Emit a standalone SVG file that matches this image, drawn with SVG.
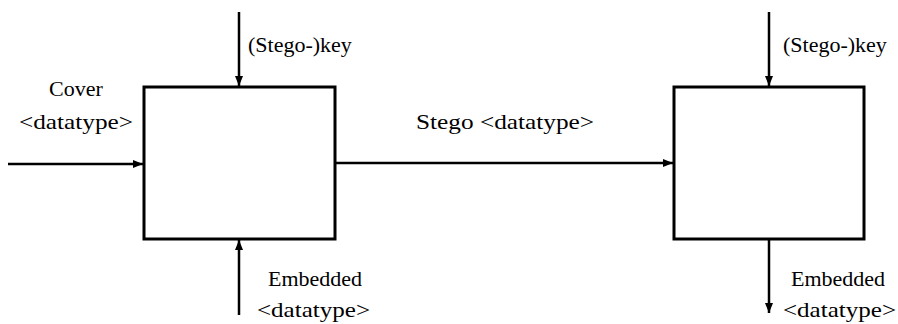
<svg xmlns="http://www.w3.org/2000/svg" width="898" height="324" viewBox="0 0 898 324">
<style>
.box{fill:#fff;stroke:#000;stroke-width:3}
.ln{stroke:#000;stroke-width:2.5;fill:none;marker-end:url(#ah)}
.t{font-family:'Liberation Serif','Times New Roman',serif;font-size:22px;fill:#000}
</style>
<defs>
<marker id="ah" viewBox="0 0 10 8" refX="10" refY="4" markerWidth="4" markerHeight="3.2" orient="auto" markerUnits="strokeWidth">
<path d="M0,0 L10,4 L0,8 Z" fill="#000"/>
</marker>
</defs>
<rect width="898" height="324" fill="#fff"/>
<g id="connectors">
<line class="ln" x1="239" y1="12" x2="239" y2="86"/>
<line class="ln" x1="8" y1="164" x2="143" y2="164"/>
<line class="ln" x1="239" y1="315" x2="239" y2="240"/>
<line class="ln" x1="336" y1="163" x2="673" y2="163"/>
<line class="ln" x1="769" y1="12" x2="769" y2="86"/>
<line class="ln" x1="769" y1="240" x2="769" y2="313"/>
</g>
<g id="embedder">
<rect class="box" x="144" y="87" width="191" height="152"/>
</g>
<g id="extractor">
<rect class="box" x="674" y="87" width="190" height="152"/>
</g>
<g id="labels">
<text class="t" x="248" y="52">(Stego-)key</text>
<text class="t" x="783" y="52">(Stego-)key</text>
<text class="t" x="49" y="96">Cover</text>
<text class="t" x="19" y="129" textLength="114" lengthAdjust="spacingAndGlyphs">&lt;datatype&gt;</text>
<text class="t" x="416" y="129" textLength="178" lengthAdjust="spacingAndGlyphs">Stego &lt;datatype&gt;</text>
<text class="t" x="268" y="286">Embedded</text>
<text class="t" x="257" y="317" textLength="113" lengthAdjust="spacingAndGlyphs">&lt;datatype&gt;</text>
<text class="t" x="791" y="286">Embedded</text>
<text class="t" x="783" y="317" textLength="113" lengthAdjust="spacingAndGlyphs">&lt;datatype&gt;</text>
</g>
</svg>
